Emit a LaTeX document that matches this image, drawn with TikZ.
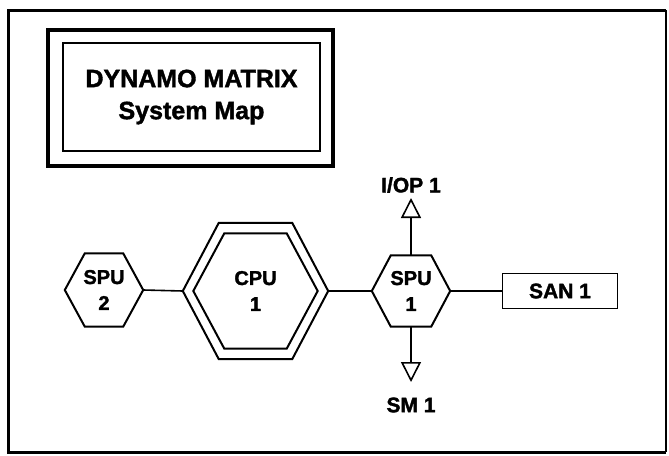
\documentclass[tikz,border=0pt]{standalone}
\usepackage{fontspec}
\setmainfont{Liberation Sans}[BoldFeatures={FakeBold=1.6}]
\usetikzlibrary{arrows.meta}

\begin{document}
\begin{tikzpicture}[x=1pt, y=-1pt,
  hexa/.style={inner sep=0, align=center, font=\fontsize{20}{26}\selectfont\bfseries},
  hexline/.style={line width=2pt, line join=miter},
  wire/.style={line width=1.6pt},
  lbl/.style={font=\fontsize{21}{25}\selectfont\bfseries, inner sep=0}]
\useasboundingbox (0,0) rectangle (669,455);
% frame
\draw[line width=3pt] (666,10) -- (8,10) -- (8,452) -- (666,452);
\draw[line width=1.5pt] (666,10) -- (666,452);
% title
\node[draw, line width=3.8pt, minimum width=285pt, minimum height=136pt] (titlebox) at (190.5,98) {};
\node[draw, line width=2.4pt, minimum width=257pt, minimum height=108pt, align=center, font=\fontsize{25}{32}\selectfont\bfseries] (title) at (191.5,97) {DYNAMO MATRIX\\System Map};
% hexagons
\node[hexa, minimum width=78pt, minimum height=73pt] (spu2) at (104,290) {SPU\\2};
\node[hexa, minimum width=145pt, minimum height=136pt] (cpu) at (255.5,291) {};
\node[hexa, minimum width=124pt, minimum height=115pt] (cpuin) at (255.5,291) {CPU\\1};
\node[hexa, minimum width=78pt, minimum height=71pt] (spu1) at (411,291) {SPU\\1};
\node[draw, line width=1.6pt, minimum width=115pt, minimum height=35pt, lbl] (san1) at (560,291) {SAN 1};
\foreach \n/\c in {spu2/20, cpu/36, cpuin/31, spu1/19}
  \draw[hexline] (\n.west) -- ([xshift=\c pt]\n.north west) -- ([xshift=-\c pt]\n.north east) -- (\n.east) -- ([xshift=-\c pt]\n.south east) -- ([xshift=\c pt]\n.south west) -- cycle;
% links
\draw[wire] (spu2.east) -- (cpu.west);
\draw[wire] (cpu.east) -- (spu1.west);
\draw[wire] (spu1.east) -- (san1.west);
\coordinate (iotip) at (411,198);
\coordinate (smtip) at (411,382);
\draw[wire, -{Triangle[open, length=20pt, width=20pt]}] (spu1.north) -- (iotip);
\draw[wire, -{Triangle[open, length=20pt, width=20pt]}] (spu1.south) -- (smtip);
\node[lbl] (iop1) at (411,185) {I/OP 1};
\node[lbl] (sm1) at (411,405) {SM 1};
\end{tikzpicture}
\end{document}
